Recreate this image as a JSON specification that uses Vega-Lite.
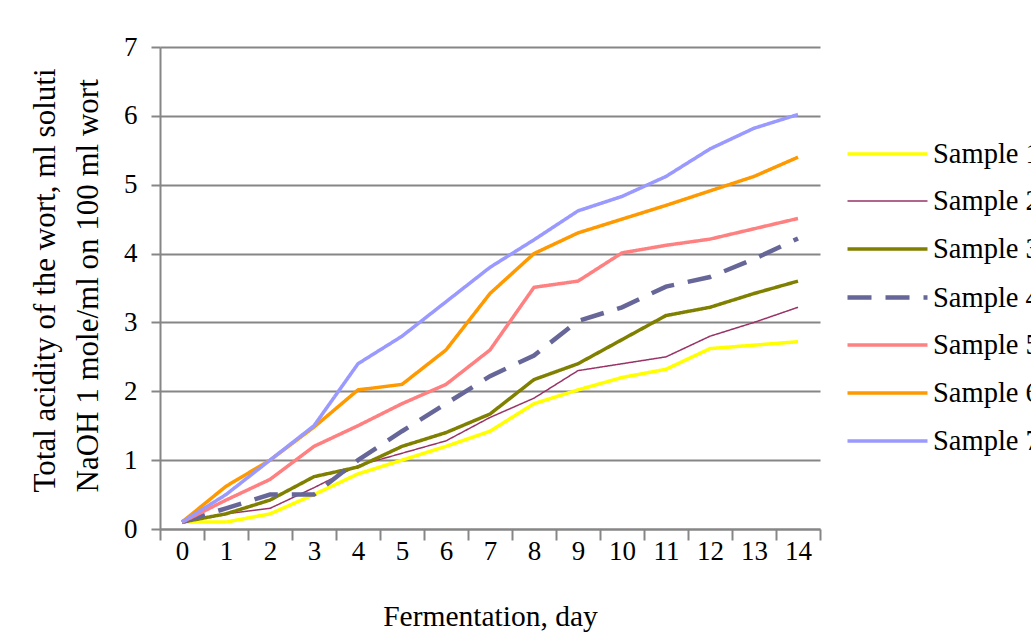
{
  "$schema": "https://vega.github.io/schema/vega-lite/v6.json",
  "width": 660,
  "height": 482,
  "autosize": "none",
  "padding": {"left": 160, "top": 47, "right": 211, "bottom": 108},
  "background": "white",
  "config": {
    "font": "Liberation Serif",
    "view": {"stroke": null},
    "axis": {"labelFont": "Liberation Serif", "titleFont": "Liberation Serif", "labelColor": "black", "titleColor": "black", "titleFontWeight": "normal"},
    "legend": {"labelFont": "Liberation Serif"}
  },
  "data": {
    "values": [
      {"day": 0, "sample": "Sample 1", "value": 0.1}, {"day": 1, "sample": "Sample 1", "value": 0.1}, {"day": 2, "sample": "Sample 1", "value": 0.22}, {"day": 3, "sample": "Sample 1", "value": 0.5}, {"day": 4, "sample": "Sample 1", "value": 0.8}, {"day": 5, "sample": "Sample 1", "value": 1.0}, {"day": 6, "sample": "Sample 1", "value": 1.2}, {"day": 7, "sample": "Sample 1", "value": 1.42}, {"day": 8, "sample": "Sample 1", "value": 1.82}, {"day": 9, "sample": "Sample 1", "value": 2.02}, {"day": 10, "sample": "Sample 1", "value": 2.2}, {"day": 11, "sample": "Sample 1", "value": 2.32}, {"day": 12, "sample": "Sample 1", "value": 2.62}, {"day": 13, "sample": "Sample 1", "value": 2.67}, {"day": 14, "sample": "Sample 1", "value": 2.72},
      {"day": 0, "sample": "Sample 2", "value": 0.1}, {"day": 1, "sample": "Sample 2", "value": 0.22}, {"day": 2, "sample": "Sample 2", "value": 0.3}, {"day": 3, "sample": "Sample 2", "value": 0.6}, {"day": 4, "sample": "Sample 2", "value": 0.92}, {"day": 5, "sample": "Sample 2", "value": 1.1}, {"day": 6, "sample": "Sample 2", "value": 1.28}, {"day": 7, "sample": "Sample 2", "value": 1.62}, {"day": 8, "sample": "Sample 2", "value": 1.9}, {"day": 9, "sample": "Sample 2", "value": 2.3}, {"day": 10, "sample": "Sample 2", "value": 2.4}, {"day": 11, "sample": "Sample 2", "value": 2.5}, {"day": 12, "sample": "Sample 2", "value": 2.8}, {"day": 13, "sample": "Sample 2", "value": 3.0}, {"day": 14, "sample": "Sample 2", "value": 3.22},
      {"day": 0, "sample": "Sample 3", "value": 0.1}, {"day": 1, "sample": "Sample 3", "value": 0.22}, {"day": 2, "sample": "Sample 3", "value": 0.42}, {"day": 3, "sample": "Sample 3", "value": 0.76}, {"day": 4, "sample": "Sample 3", "value": 0.9}, {"day": 5, "sample": "Sample 3", "value": 1.2}, {"day": 6, "sample": "Sample 3", "value": 1.4}, {"day": 7, "sample": "Sample 3", "value": 1.67}, {"day": 8, "sample": "Sample 3", "value": 2.17}, {"day": 9, "sample": "Sample 3", "value": 2.4}, {"day": 10, "sample": "Sample 3", "value": 2.75}, {"day": 11, "sample": "Sample 3", "value": 3.1}, {"day": 12, "sample": "Sample 3", "value": 3.22}, {"day": 13, "sample": "Sample 3", "value": 3.42}, {"day": 14, "sample": "Sample 3", "value": 3.6},
      {"day": 0, "sample": "Sample 4", "value": 0.1}, {"day": 1, "sample": "Sample 4", "value": 0.3}, {"day": 2, "sample": "Sample 4", "value": 0.5}, {"day": 3, "sample": "Sample 4", "value": 0.5}, {"day": 4, "sample": "Sample 4", "value": 1.0}, {"day": 5, "sample": "Sample 4", "value": 1.42}, {"day": 6, "sample": "Sample 4", "value": 1.82}, {"day": 7, "sample": "Sample 4", "value": 2.22}, {"day": 8, "sample": "Sample 4", "value": 2.52}, {"day": 9, "sample": "Sample 4", "value": 3.02}, {"day": 10, "sample": "Sample 4", "value": 3.22}, {"day": 11, "sample": "Sample 4", "value": 3.52}, {"day": 12, "sample": "Sample 4", "value": 3.66}, {"day": 13, "sample": "Sample 4", "value": 3.92}, {"day": 14, "sample": "Sample 4", "value": 4.22},
      {"day": 0, "sample": "Sample 5", "value": 0.1}, {"day": 1, "sample": "Sample 5", "value": 0.42}, {"day": 2, "sample": "Sample 5", "value": 0.72}, {"day": 3, "sample": "Sample 5", "value": 1.2}, {"day": 4, "sample": "Sample 5", "value": 1.5}, {"day": 5, "sample": "Sample 5", "value": 1.82}, {"day": 6, "sample": "Sample 5", "value": 2.1}, {"day": 7, "sample": "Sample 5", "value": 2.6}, {"day": 8, "sample": "Sample 5", "value": 3.51}, {"day": 9, "sample": "Sample 5", "value": 3.6}, {"day": 10, "sample": "Sample 5", "value": 4.01}, {"day": 11, "sample": "Sample 5", "value": 4.12}, {"day": 12, "sample": "Sample 5", "value": 4.21}, {"day": 13, "sample": "Sample 5", "value": 4.36}, {"day": 14, "sample": "Sample 5", "value": 4.51},
      {"day": 0, "sample": "Sample 6", "value": 0.1}, {"day": 1, "sample": "Sample 6", "value": 0.62}, {"day": 2, "sample": "Sample 6", "value": 1.0}, {"day": 3, "sample": "Sample 6", "value": 1.48}, {"day": 4, "sample": "Sample 6", "value": 2.02}, {"day": 5, "sample": "Sample 6", "value": 2.1}, {"day": 6, "sample": "Sample 6", "value": 2.6}, {"day": 7, "sample": "Sample 6", "value": 3.42}, {"day": 8, "sample": "Sample 6", "value": 4.0}, {"day": 9, "sample": "Sample 6", "value": 4.3}, {"day": 10, "sample": "Sample 6", "value": 4.5}, {"day": 11, "sample": "Sample 6", "value": 4.7}, {"day": 12, "sample": "Sample 6", "value": 4.91}, {"day": 13, "sample": "Sample 6", "value": 5.12}, {"day": 14, "sample": "Sample 6", "value": 5.4},
      {"day": 0, "sample": "Sample 7", "value": 0.1}, {"day": 1, "sample": "Sample 7", "value": 0.5}, {"day": 2, "sample": "Sample 7", "value": 1.0}, {"day": 3, "sample": "Sample 7", "value": 1.5}, {"day": 4, "sample": "Sample 7", "value": 2.4}, {"day": 5, "sample": "Sample 7", "value": 2.8}, {"day": 6, "sample": "Sample 7", "value": 3.3}, {"day": 7, "sample": "Sample 7", "value": 3.8}, {"day": 8, "sample": "Sample 7", "value": 4.2}, {"day": 9, "sample": "Sample 7", "value": 4.62}, {"day": 10, "sample": "Sample 7", "value": 4.83}, {"day": 11, "sample": "Sample 7", "value": 5.12}, {"day": 12, "sample": "Sample 7", "value": 5.52}, {"day": 13, "sample": "Sample 7", "value": 5.82}, {"day": 14, "sample": "Sample 7", "value": 6.02}
    ]
  },
  "mark": {"type": "line", "strokeCap": "butt", "strokeJoin": "miter"},
  "encoding": {
    "x": {
      "field": "day", "type": "ordinal",
      "scale": {"paddingInner": 0, "paddingOuter": 0},
      "axis": {
        "title": "Fermentation, day", "titleFontSize": 29.5, "titlePadding": 38,
        "labelAngle": 0, "labelFontSize": 27, "labelPadding": -2,
        "tickBand": "extent", "tickSize": 11, "tickColor": "#868686", "tickWidth": 2,
        "domainColor": "#868686", "domainWidth": 2, "grid": false
      }
    },
    "y": {
      "field": "value", "type": "quantitative",
      "scale": {"domain": [0, 7], "nice": false},
      "axis": {
        "values": [0, 1, 2, 3, 4, 5, 6, 7],
        "title": ["Total  acidity of the wort, ml soluti", "NaOH  1 mole/ml on 100 ml wort"],
        "titleFontSize": 31, "titleLineHeight": 43, "titleAngle": -90,
        "titleAlign": "left", "titleBaseline": "middle",
        "titleX": -115, "titleY": 445,
        "labelFontSize": 27, "labelPadding": 14,
        "tickSize": 9, "tickColor": "#868686", "tickWidth": 2,
        "domainColor": "#868686", "domainWidth": 2,
        "grid": true, "gridColor": "#868686", "gridWidth": 2
      }
    },
    "color": {
      "field": "sample", "type": "nominal", "title": null,
      "scale": {"domain": ["Sample 1", "Sample 2", "Sample 3", "Sample 4", "Sample 5", "Sample 6", "Sample 7"],
                "range": ["#FFFF00", "#993366", "#808000", "#666699", "#FF8080", "#FF9900", "#9999FF"]},
      "legend": {
        "orient": "none", "legendX": 694, "legendY": 74,
        "symbolType": "M-1.28,0H1.28", "symbolSize": 3906, "labelFontSize": 28.5, "labelOffset": 12,
        "rowPadding": 0, "labelColor": "black", "labelLimit": 0
      }
    },
    "strokeDash": {
      "field": "sample", "type": "nominal", "title": null,
      "scale": {"domain": ["Sample 1", "Sample 2", "Sample 3", "Sample 4", "Sample 5", "Sample 6", "Sample 7"],
                "range": [[1, 0], [1, 0], [1, 0], [24, 14], [1, 0], [1, 0], [1, 0]]}
    },
    "strokeWidth": {
      "field": "sample", "type": "nominal", "title": null,
      "scale": {"type": "ordinal", "domain": ["Sample 1", "Sample 2", "Sample 3", "Sample 4", "Sample 5", "Sample 6", "Sample 7"],
                "range": [3.5, 1.5, 3.5, 4.5, 3.5, 3.5, 3.5]}
    }
  }
}
